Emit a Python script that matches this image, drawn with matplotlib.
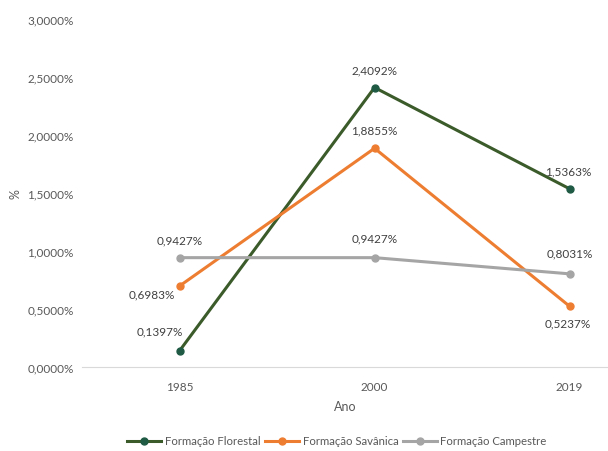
import matplotlib
matplotlib.use("Agg")
import matplotlib.pyplot as plt

#Data
anos = ["1985", "2000", "2019"]
florestal = [0.1397, 2.4092, 1.5363]
savanica = [0.6983, 1.8855, 0.5237]
campestre = [0.9427, 0.9427, 0.8031]
y_ticks = [0.0, 0.5, 1.0, 1.5, 2.0, 2.5, 3.0]

plt.rcParams['font.family'] = ['Lato', 'DejaVu Sans']
txt = '#595959'

fig = plt.figure(figsize=(6.08, 4.52), dpi=100)
ax = fig.add_axes([0.1349, 0.1858, 0.8651, 0.77])

x = list(range(len(anos)))
series = [
    ("Formação Florestal", florestal, '#3B5B2A', '#1F5A44'),
    ("Formação Savânica", savanica, '#ED7D31', '#ED7D31'),
    ("Formação Campestre", campestre, '#A5A5A5', '#A5A5A5'),
]
for name, vals, lc, mc in series:
    ax.plot(x, vals, color=lc, lw=2.2, marker='o', ms=5,
            markerfacecolor=mc, markeredgecolor=mc, label=name)

#Label offsets in points (dx, dy) per series and year
offsets = {
    "Formação Florestal": [(-14, 14), (0, 13), (-1, 13)],
    "Formação Savânica": [(-20, -6), (0, 13), (-1, -12)],
    "Formação Campestre": [(0, 13), (0, 14), (0, 15)],
}
for name, vals, lc, mc in series:
    for i, v in enumerate(vals):
        lab = f"{v:.4f}".replace('.', ',') + '%'
        ax.annotate(lab, (i, v), xytext=offsets[name][i], textcoords='offset points',
                    ha='center', va='center', fontsize=8.5, color='#404040')

ax.set_xlim(-0.5, 2.197)
ax.set_ylim(0, 3.0)
ax.set_xticks(x)
ax.set_xticklabels(anos)
ax.set_yticks(y_ticks)
ax.set_yticklabels([f"{t:.4f}".replace('.', ',') + '%' for t in y_ticks])
ax.tick_params(length=0, labelsize=8.5, colors=txt, pad=6)
ax.tick_params(axis='x', pad=10)

for s in ['top', 'right', 'left']:
    ax.spines[s].set_visible(False)
ax.spines['bottom'].set_color('#D9D9D9')

ax.set_xlabel("Ano", fontsize=9, color=txt, labelpad=6)
ax.set_ylabel("%", fontsize=9, color=txt, labelpad=4)

fig.legend(loc='center', bbox_to_anchor=(337 / 608, 1 - 442 / 452), ncol=3,
           frameon=False, fontsize=8.2, labelcolor=txt, handlelength=3.0,
           columnspacing=0.4, handletextpad=0.3)

fig.savefig("out.png", dpi=100)
